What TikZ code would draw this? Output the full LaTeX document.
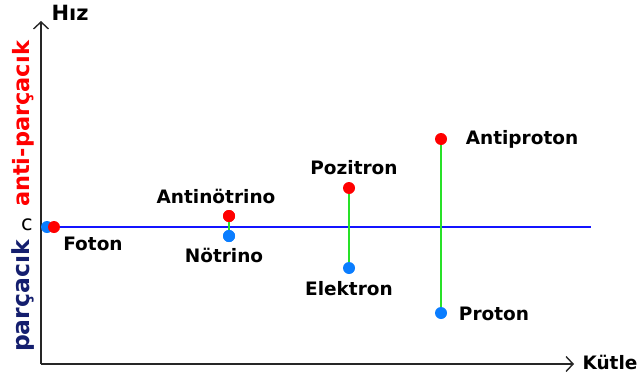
\documentclass[tikz,border=0pt]{standalone}
\usepackage{fontspec}
\setmainfont{DejaVu Sans}
\usetikzlibrary{arrows.meta}
\definecolor{antired}{RGB}{255,0,0}
\definecolor{partblue}{RGB}{10,125,255}
\definecolor{linkgreen}{RGB}{40,225,40}
\definecolor{lineblue}{RGB}{20,20,255}
\definecolor{navytext}{RGB}{20,30,110}
\tikzset{
  axis/.style={draw=black!85, line width=1.4pt, -{Straight Barb[length=7pt,width=15pt,line width=1.4pt]}},
  antidot/.style={circle, fill=antired, inner sep=0pt, minimum size=12pt},
  partdot/.style={circle, fill=partblue, inner sep=0pt, minimum size=12pt},
  link/.style={draw=linkgreen, line width=1.8pt},
  lbl/.style={font=\bfseries\fontsize{18.5}{20}\selectfont, text=black, inner sep=0pt},
  sidelbl/.style={rotate=90, inner sep=0pt}
}
\begin{document}
\begin{tikzpicture}[x=1pt, y=-1pt]
\useasboundingbox (0,0) rectangle (637,380);

% axes
\coordinate (O) at (41,364);
\coordinate (ytip) at (41,21);
\coordinate (xtip) at (574,364);
\draw[axis] (O) -- (ytip);
\draw[axis] (O) -- (xtip);
\node[lbl, font=\bfseries\fontsize{21}{23}\selectfont] (hiz) at (70,13) {Hız};
\node[lbl] (kutle) at (610,362) {Kütle};
\node[font=\fontsize{21}{23}\selectfont, inner sep=0pt] (c) at (27,225) {c};
\node[sidelbl, font=\bfseries\fontsize{22.5}{24}\selectfont, text=antired] (anti) at (23,124) {anti-parçacık};
\node[sidelbl, font=\bfseries\fontsize{23.5}{25}\selectfont, text=navytext] (parc) at (23,296) {parçacık};

% speed of light
\coordinate (cstart) at (41,227);
\coordinate (cend) at (591,227);
\draw[lineblue, line width=1.3pt] (cstart) -- (cend);

% dots
\node[partdot] (fotonb) at (47,227) {};
\node[antidot] (fotonr) at (54,227) {};
\node[antidot] (antinu) at (229,216) {};
\node[partdot] (nu) at (229,236) {};
\node[antidot] (pozitron) at (349,188) {};
\node[partdot] (elektron) at (349,268) {};
\node[antidot] (antip) at (441,139) {};
\node[partdot] (proton) at (441,313) {};

% particle/antiparticle links
\draw[link] (antinu) -- (nu);
\draw[link] (pozitron) -- (elektron);
\draw[link] (antip) -- (proton);
\node[antidot] at (antinu) {};
\node[partdot] at (nu) {};

% labels
\node[lbl] (lfoton) at (93,244) {Foton};
\node[lbl] (lantinu) at (216,196) {Antinötrino};
\node[lbl] (lnu) at (224,255) {Nötrino};
\node[lbl] (lpoz) at (354,168) {Pozitron};
\node[lbl] (lelek) at (349,289) {Elektron};
\node[lbl] (lantip) at (522,139) {Antiproton};
\node[lbl] (lproton) at (494,314) {Proton};
\end{tikzpicture}
\end{document}
